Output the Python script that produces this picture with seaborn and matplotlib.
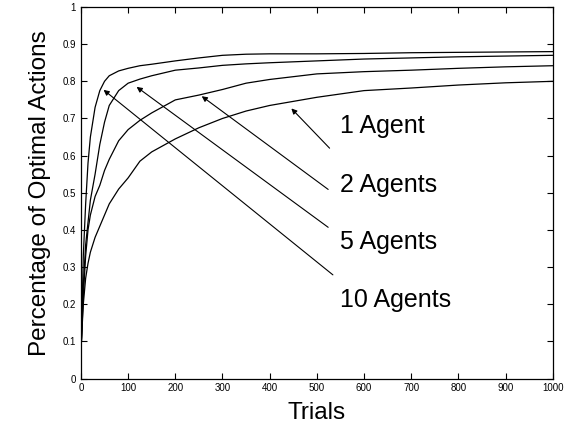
import pandas as pd
import matplotlib
matplotlib.use('Agg')
import matplotlib.pyplot as plt
import seaborn as sns

# values (trial -> fraction of optimal actions)
trials = [1, 5, 10, 15, 20, 30, 40, 50, 60, 80, 100, 125, 150, 200,
          250, 300, 350, 400, 500, 600, 700, 800, 900, 1000]

agents_10 = [0.10, 0.33, 0.47, 0.58, 0.65, 0.73, 0.775, 0.80, 0.815, 0.828, 0.835, 0.842,
             0.846, 0.855, 0.863, 0.870, 0.873, 0.874, 0.874, 0.875, 0.877, 0.878, 0.879, 0.880]
agents_5 = [0.10, 0.25, 0.36, 0.42, 0.48, 0.55, 0.63, 0.69, 0.735, 0.775, 0.795, 0.806,
            0.815, 0.830, 0.836, 0.843, 0.847, 0.850, 0.855, 0.860, 0.863, 0.866, 0.868, 0.870]
agents_2 = [0.10, 0.22, 0.33, 0.40, 0.44, 0.49, 0.52, 0.56, 0.59, 0.64, 0.67, 0.695,
            0.715, 0.750, 0.763, 0.778, 0.795, 0.805, 0.820, 0.826, 0.830, 0.835, 0.839, 0.842]
agents_1 = [0.10, 0.20, 0.27, 0.31, 0.34, 0.38, 0.41, 0.44, 0.47, 0.51, 0.54, 0.585,
            0.61, 0.645, 0.675, 0.70, 0.72, 0.735, 0.757, 0.775, 0.782, 0.79, 0.796, 0.80]

labels = ['1 Agent', '2 Agents', '5 Agents', '10 Agents']
# where each arrow points on its curve, and where its label sits
arrow_heads = [(446, 0.727), (256, 0.760), (118, 0.785), (48, 0.777)]
arrow_tails = [(527, 0.62), (524, 0.509), (524, 0.407), (534, 0.279)]
label_pos = [(549, 0.68), (549, 0.521), (549, 0.368), (549, 0.211)]

df = pd.DataFrame({
    'trial': trials * 4,
    'value': agents_1 + agents_2 + agents_5 + agents_10,
    'series': sum([[lab] * len(trials) for lab in labels], []),
})

sns.set_style('ticks')
plt.rcParams['font.family'] = ['Liberation Sans', 'DejaVu Sans']
plt.rcParams['text.color'] = 'k'
plt.rcParams['axes.labelcolor'] = 'k'

fig = plt.figure(figsize=(5.74, 4.26), dpi=100)
ax = fig.add_axes([0.141, 0.1115, 0.822, 0.872])

sns.lineplot(data=df, x='trial', y='value', hue='series', palette=['k'] * 4,
             legend=False, linewidth=0.9, ax=ax)

for lab, head, tail, pos in zip(labels, arrow_heads, arrow_tails, label_pos):
    ax.annotate('', xy=head, xytext=tail,
                arrowprops=dict(arrowstyle='-|>', color='k', lw=0.8, mutation_scale=8,
                                shrinkA=0, shrinkB=0))
    ax.text(pos[0], pos[1], lab, fontsize=18, va='center', ha='left', color='k')

ax.set_xlim(0, 1000)
ax.set_ylim(0, 1)
ax.set_xticks(range(0, 1001, 100))
ax.set_yticks([i / 10 for i in range(11)])
ax.set_yticklabels([f'{i / 10:g}' for i in range(11)])
ax.tick_params(direction='in', length=4, width=0.8, labelsize=7, top=True, right=True,
               colors='k')
for sp in ax.spines.values():
    sp.set_visible(True)
    sp.set_linewidth(0.9)
    sp.set_color('k')

ax.set_xlabel('Trials', fontsize=17.5, labelpad=6, color='k')
ax.set_ylabel('Percentage of Optimal Actions', fontsize=17.5, labelpad=8, color='k')

plt.savefig('out.png', dpi=100)
